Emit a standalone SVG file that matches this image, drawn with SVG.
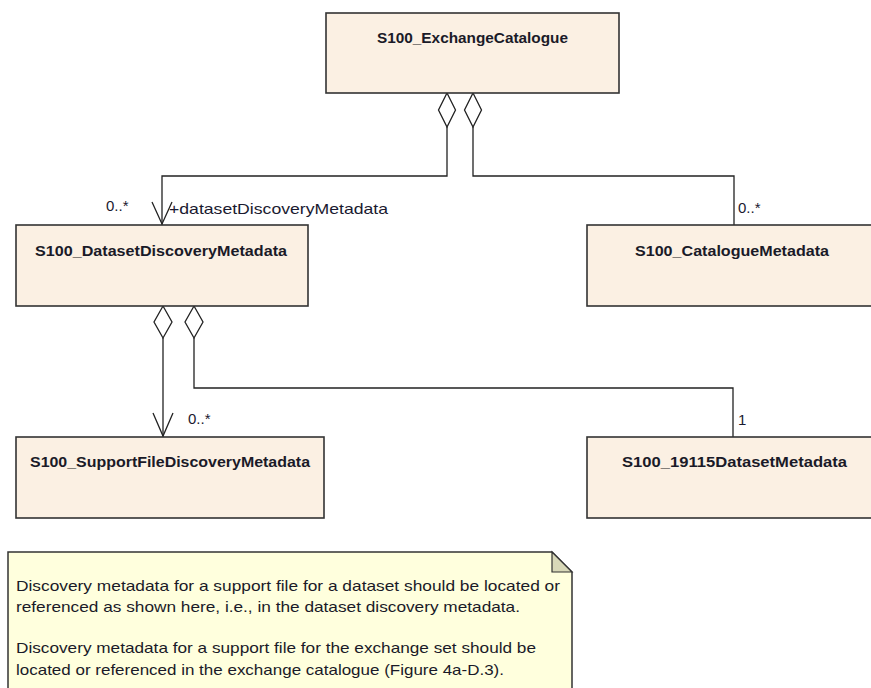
<svg xmlns="http://www.w3.org/2000/svg" width="871" height="688" viewBox="0 0 871 688">
<style>
.box{fill:#FBF0E3;stroke:#333;stroke-width:1.6}
.name{font-family:"Liberation Sans",Arial,sans-serif;font-weight:bold;font-size:15px;fill:#1a1a28;text-anchor:middle}
.lbl{font-family:"Liberation Sans",Arial,sans-serif;font-size:15px;fill:#1a1a30}
.edge{fill:none;stroke:#222;stroke-width:1.3}
.dia{fill:#fff;stroke:#222;stroke-width:1.3}
.note{fill:#FFFFDD;stroke:#333;stroke-width:1.5}
.fold{fill:#D8D8B8;stroke:#333;stroke-width:1.2}
.ntxt{font-family:"Liberation Sans",Arial,sans-serif;font-size:15px;fill:#1a1a28}
</style>
<rect width="871" height="688" fill="#fff"/>
<g id="connectors">
  <polyline class="edge" points="447,127 447,176 162,176 162,225"/>
  <polyline class="edge" points="473,127 473,176 734,176 734,225"/>
  <polyline class="edge" points="163,338 163,437"/>
  <polyline class="edge" points="194,338 194,388 733,388 733,437"/>
  <polygon class="dia" points="447,93 455.5,110 447,127 438.5,110"/>
  <polygon class="dia" points="473,93 481.5,110 473,127 464.5,110"/>
  <polygon class="dia" points="163,306 172,322 163,338 154,322"/>
  <polygon class="dia" points="194,306 203,322 194,338 185,322"/>
  <polyline class="edge" points="152,202 162,224 172,202"/>
  <polyline class="edge" points="153,413 163,436 173,413"/>
  <text class="lbl" x="106" y="211">0..*</text>
  <text class="lbl" x="169" y="214" textLength="219" lengthAdjust="spacingAndGlyphs">+datasetDiscoveryMetadata</text>
  <text class="lbl" x="738" y="213">0..*</text>
  <text class="lbl" x="188" y="424">0..*</text>
  <text class="lbl" x="738" y="425">1</text>
</g>
<g id="S100_ExchangeCatalogue">
  <rect class="box" x="326" y="13" width="293" height="80"/>
  <text class="name" x="472.5" y="43" textLength="191" lengthAdjust="spacingAndGlyphs">S100_ExchangeCatalogue</text>
</g>
<g id="S100_DatasetDiscoveryMetadata">
  <rect class="box" x="16" y="225" width="292" height="81"/>
  <text class="name" x="161" y="256" textLength="252" lengthAdjust="spacingAndGlyphs">S100_DatasetDiscoveryMetadata</text>
</g>
<g id="S100_CatalogueMetadata">
  <rect class="box" x="587" y="225" width="293" height="81"/>
  <text class="name" x="732" y="256" textLength="194" lengthAdjust="spacingAndGlyphs">S100_CatalogueMetadata</text>
</g>
<g id="S100_SupportFileDiscoveryMetadata">
  <rect class="box" x="16" y="437" width="308" height="81"/>
  <text class="name" x="170" y="467" textLength="280" lengthAdjust="spacingAndGlyphs">S100_SupportFileDiscoveryMetadata</text>
</g>
<g id="S100_19115DatasetMetadata">
  <rect class="box" x="587" y="437" width="293" height="81"/>
  <text class="name" x="734.5" y="467" textLength="225" lengthAdjust="spacingAndGlyphs">S100_19115DatasetMetadata</text>
</g>
<g id="note">
  <polygon class="note" points="8,552 552,552 572,572 572,700 8,700"/>
  <polygon class="fold" points="552,552 572,572 552,572"/>
  <text class="ntxt" x="16" y="591" textLength="544" lengthAdjust="spacingAndGlyphs">Discovery metadata for a support file for a dataset should be located or</text>
  <text class="ntxt" x="16" y="612" textLength="504" lengthAdjust="spacingAndGlyphs">referenced as shown here, i.e., in the dataset discovery metadata.</text>
  <text class="ntxt" x="16" y="653" textLength="520" lengthAdjust="spacingAndGlyphs">Discovery metadata for a support file for the exchange set should be</text>
  <text class="ntxt" x="16" y="675" textLength="488" lengthAdjust="spacingAndGlyphs">located or referenced in the exchange catalogue (Figure 4a-D.3).</text>
</g>
</svg>
